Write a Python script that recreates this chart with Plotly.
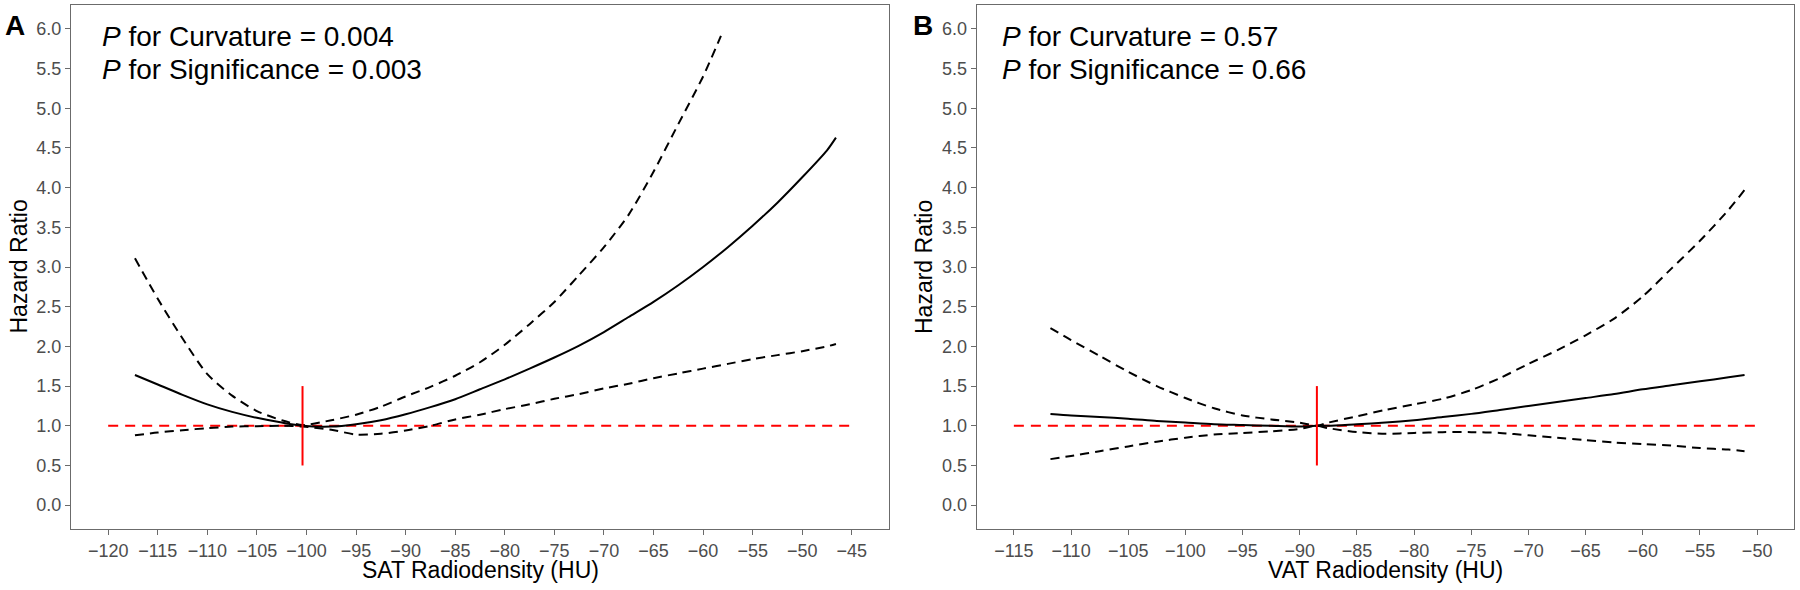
import plotly.graph_objects as go

# ---------------- data ----------------
# Panel A: SAT radiodensity
sat_x = [-117.3, -115, -112.5, -110, -107.5, -105, -102.5, -100.4, -97.5, -95, -92.5, -90,
         -87.5, -85, -82.5, -80, -77.5, -75, -72.5, -70, -67.5, -65, -62.5, -60, -57.5,
         -55, -52.5, -50, -47.5, -46.6]
sat_hr = [1.64, 1.52, 1.39, 1.27, 1.175, 1.10, 1.04, 1.00, 0.99, 1.02, 1.07, 1.145,
          1.235, 1.335, 1.46, 1.585, 1.72, 1.86, 2.01, 2.18, 2.37, 2.56, 2.77, 3.00, 3.25,
          3.52, 3.81, 4.13, 4.47, 4.63]
sat_lower = [0.88, 0.915, 0.945, 0.97, 0.99, 0.995, 1.0, 0.99, 0.95, 0.89, 0.90, 0.94,
             1.00, 1.08, 1.14, 1.21, 1.27, 1.34, 1.40, 1.47, 1.53, 1.60, 1.66, 1.72, 1.78,
             1.84, 1.89, 1.94, 2.00, 2.03]
sat_upper_x = [-117.3, -115, -112.5, -110, -107.5, -105, -102.5, -100.4, -97.5, -95, -92.5,
               -90, -87.5, -85, -82.5, -80, -77.5, -75, -72.5, -70, -67.5, -65, -62.5, -60,
               -58.2]
sat_upper = [3.11, 2.60, 2.10, 1.65, 1.38, 1.185, 1.07, 1.01, 1.07, 1.14, 1.24,
             1.37, 1.49, 1.63, 1.80, 2.02, 2.28, 2.56, 2.90, 3.25, 3.66, 4.20, 4.80, 5.40,
             5.91]
sat_ref = -100.4
sat_ticks = list(range(-120, -44, 5))

# Panel B: VAT radiodensity
vat_x = [-111.8, -110, -107.5, -105, -102.5, -100, -97.5, -95, -92.5, -90, -88.5, -87.5,
         -85, -82.5, -80, -77.5, -75, -72.5, -70, -67.5, -65, -62.5, -60, -57.5, -55,
         -52.5, -51.1]
vat_hr = [1.15, 1.13, 1.11, 1.09, 1.06, 1.04, 1.02, 1.01, 1.00, 0.99, 1.00, 1.00,
          1.02, 1.04, 1.07, 1.11, 1.15, 1.20, 1.25, 1.30, 1.35, 1.40, 1.46, 1.51, 1.56,
          1.61, 1.64]
vat_upper = [2.23, 2.08, 1.88, 1.68, 1.50, 1.35, 1.22, 1.13, 1.08, 1.04, 1.00, 1.04,
             1.12, 1.20, 1.27, 1.34, 1.45, 1.60, 1.78, 1.95, 2.14, 2.35, 2.63, 2.98, 3.33,
             3.72, 3.97]
vat_lower = [0.58, 0.62, 0.68, 0.74, 0.80, 0.85, 0.89, 0.91, 0.93, 0.96, 1.00, 0.97,
             0.92, 0.90, 0.91, 0.92, 0.92, 0.91, 0.88, 0.85, 0.82, 0.79, 0.77, 0.75, 0.72,
             0.70, 0.68]
vat_ref = -88.5
vat_ticks = list(range(-115, -49, 5))

y_ticks = [i * 0.5 for i in range(13)]
ref_hr = 1.0
ref_bar = [0.5, 1.5]

panel_letters = ["A", "B"]
curv_text = ["<i>P</i> for Curvature = 0.004", "<i>P</i> for Curvature = 0.57"]
sig_text = ["<i>P</i> for Significance = 0.003", "<i>P</i> for Significance = 0.66"]
x_titles = ["SAT Radiodensity (HU)", "VAT Radiodensity (HU)"]
y_title = "Hazard Ratio"

# ---------------- layout helpers ----------------
W, H = 1800, 590
FONT = "Liberation Sans, Arial, sans-serif"


def fx(p):
    return p / W


def fy(p):
    return 1 - p / H


BLACK_DASH = "9px,6px"
RED_DASH = "10px,7px"

fig = go.Figure()


def add_panel(xa, ya, x, hr, lo, ux, up, ref, ticks):
    common = dict(xaxis=xa, yaxis=ya, mode="lines", showlegend=False, hoverinfo="skip",
                  line_shape="spline")
    fig.add_trace(go.Scatter(x=[ticks[0], ticks[-1]], y=[ref_hr, ref_hr], xaxis=xa, yaxis=ya,
                             mode="lines", showlegend=False, hoverinfo="skip",
                             line=dict(color="#FF0000", width=2, dash=RED_DASH)))
    fig.add_trace(go.Scatter(x=x, y=lo, line=dict(color="black", width=2, dash=BLACK_DASH,
                                                 smoothing=0.7), **common))
    fig.add_trace(go.Scatter(x=ux, y=up, line=dict(color="black", width=2, dash=BLACK_DASH,
                                                  smoothing=0.7), **common))
    fig.add_trace(go.Scatter(x=x, y=hr, line=dict(color="black", width=2, smoothing=0.7),
                             **common))
    fig.add_trace(go.Scatter(x=[ref, ref], y=ref_bar, xaxis=xa, yaxis=ya, mode="lines",
                             showlegend=False, hoverinfo="skip",
                             line=dict(color="#FF0000", width=2)))


add_panel("x", "y", sat_x, sat_hr, sat_lower, sat_upper_x, sat_upper, sat_ref, sat_ticks)
add_panel("x2", "y2", vat_x, vat_hr, vat_lower, vat_x, vat_upper, vat_ref, vat_ticks)

AX_COLOR = "#6b6b6b"
axis_common = dict(showgrid=False, zeroline=False, showline=True, mirror=True,
                   linecolor=AX_COLOR, linewidth=1.3, ticks="outside", ticklen=5,
                   tickwidth=1.3, tickcolor=AX_COLOR,
                   tickfont=dict(family=FONT, size=18, color="#4D4D4D"))


def xr(ticks):
    span = ticks[-1] - ticks[0]
    return [ticks[0] - 0.05 * span, ticks[-1] + 0.05 * span]


yspan = y_ticks[-1] - y_ticks[0]
yrange = [y_ticks[0] - 0.05 * yspan, y_ticks[-1] + 0.05 * yspan]

ydom = [fy(529), fy(5)]

fig.update_layout(
    width=W, height=H,
    margin=dict(l=0, r=0, t=0, b=0),
    paper_bgcolor="white", plot_bgcolor="white",
    xaxis=dict(domain=[fx(71), fx(889)], range=xr(sat_ticks), tickvals=sat_ticks,
               anchor="y", **axis_common),
    yaxis=dict(domain=ydom, range=yrange, tickvals=y_ticks,
               ticktext=[f"{v:.1f}" for v in y_ticks], anchor="x", **axis_common),
    xaxis2=dict(domain=[fx(976.7), fx(1794.3)], range=xr(vat_ticks), tickvals=vat_ticks,
                anchor="y2", **axis_common),
    yaxis2=dict(domain=ydom, range=yrange, tickvals=y_ticks,
                ticktext=[f"{v:.1f}" for v in y_ticks], anchor="x2", **axis_common),
)

annotations = []
letter_x = [3, 910.5]
ptext_x = [100, 1000]
ytitle_x = [18.5, 924]
xtitle_c = [480, 1385.5]
for i in range(2):
    annotations.append(dict(text=f"<b>{panel_letters[i]}</b>", x=fx(letter_x[i]), y=fy(26),
                            xref="paper", yref="paper", xanchor="left", yanchor="middle",
                            showarrow=False, font=dict(family=FONT, size=28, color="black")))
    annotations.append(dict(text=curv_text[i], x=fx(ptext_x[i]), y=fy(36),
                            xref="paper", yref="paper", xanchor="left", yanchor="middle",
                            showarrow=False, font=dict(family=FONT, size=28, color="black")))
    annotations.append(dict(text=sig_text[i], x=fx(ptext_x[i]), y=fy(69),
                            xref="paper", yref="paper", xanchor="left", yanchor="middle",
                            showarrow=False, font=dict(family=FONT, size=28, color="black")))
    annotations.append(dict(text=y_title, x=fx(ytitle_x[i]), y=fy(267), textangle=-90,
                            xref="paper", yref="paper", xanchor="center", yanchor="middle",
                            showarrow=False, font=dict(family=FONT, size=23, color="black")))
    annotations.append(dict(text=x_titles[i], x=fx(xtitle_c[i]), y=fy(570),
                            xref="paper", yref="paper", xanchor="center", yanchor="middle",
                            showarrow=False, font=dict(family=FONT, size=23, color="black")))
fig.update_layout(annotations=annotations)

fig.write_html("out.html", config={"displayModeBar": False},
               post_script="document.body.style.margin='0';document.body.style.overflow='hidden';")
